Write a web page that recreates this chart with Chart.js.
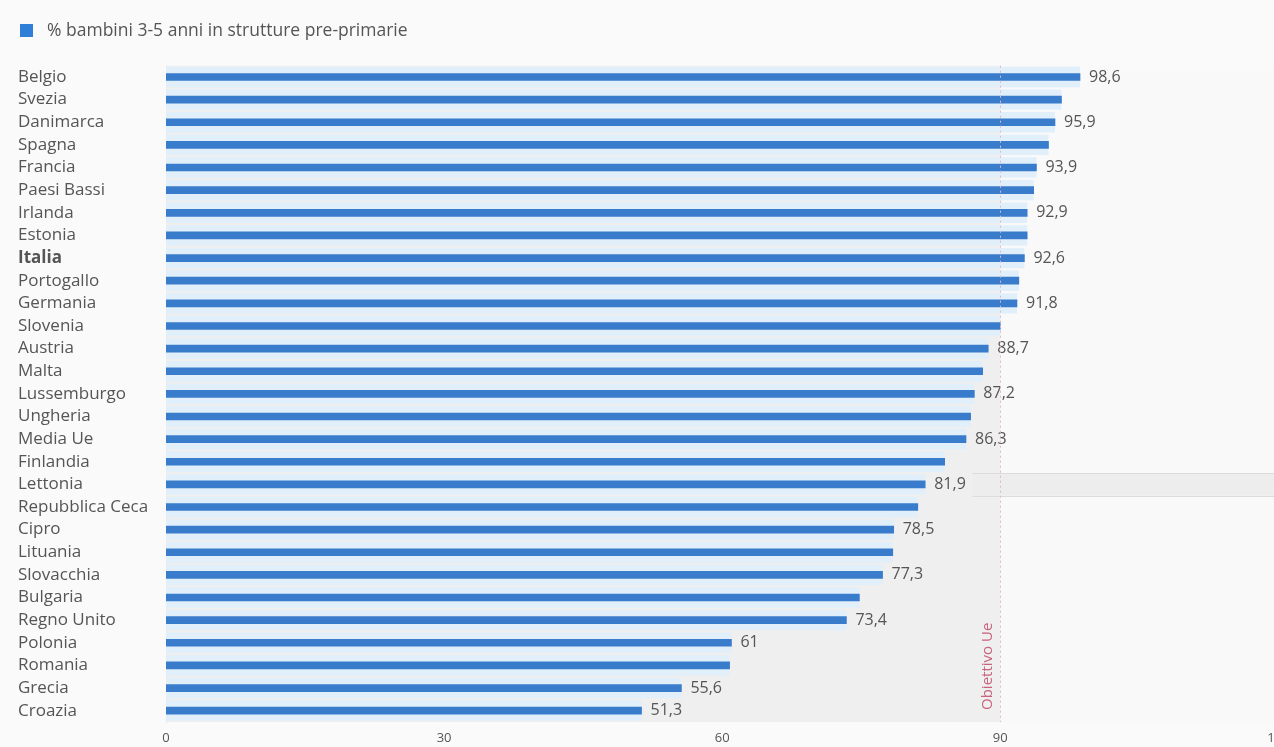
<!DOCTYPE html>
<html><head><meta charset="utf-8">
<script src="https://cdn.jsdelivr.net/npm/chart.js@4"></script>
<style>
html,body{margin:0;padding:0;background:#fafafa;overflow:hidden;width:1274px;height:747px}
#wrap{width:1300px;height:747px}
</style></head>
<body><div id="wrap"><canvas id="c" width="1300" height="747"></canvas></div>
<script>
const categories = ['Belgio','Svezia','Danimarca','Spagna','Francia','Paesi Bassi','Irlanda','Estonia','Italia','Portogallo','Germania','Slovenia','Austria','Malta','Lussemburgo','Ungheria','Media Ue','Finlandia','Lettonia','Repubblica Ceca','Cipro','Lituania','Slovacchia','Bulgaria','Regno Unito','Polonia','Romania','Grecia','Croazia'];
const values = [98.6,96.6,95.9,95.2,93.9,93.6,92.9,92.9,92.6,92.0,91.8,90.0,88.7,88.1,87.2,86.8,86.3,84.0,81.9,81.1,78.5,78.4,77.3,74.8,73.4,61,60.8,55.6,51.3];
const valueLabels = ['98,6','','95,9','','93,9','','92,9','','92,6','','91,8','','88,7','','87,2','','86,3','','81,9','','78,5','','77,3','','73,4','61','','55,6','51,3'];
const seriesName = '% bambini 3-5 anni in strutture pre-primarie';
const xTickValues = [0,30,60,90,120];
const targetValue = 90;
const targetLabel = 'Obiettivo Ue';
const highlightedCategory = 'Lettonia';
const highlightFrom = 87;
const boldCategory = 'Italia';

Chart.defaults.font.family = '"Open Sans", sans-serif';

const bgPlugin = {
  id: 'bg',
  beforeDatasetsDraw(chart) {
    const {ctx, chartArea: a, scales: {x, y}} = chart;
    ctx.save();
    ctx.fillStyle = '#f9f9f9';
    ctx.fillRect(a.left, a.top, a.right - a.left, a.bottom - a.top);
    const x0 = x.getPixelForValue(0), xt = x.getPixelForValue(targetValue);
    ctx.fillStyle = '#efefef';
    ctx.fillRect(x0, a.top, xt - x0, a.bottom - a.top);
    const hi = categories.indexOf(highlightedCategory);
    const yc = y.getPixelForValue(hi);
    const h = (a.bottom - a.top) / categories.length;
    const xh = x.getPixelForValue(highlightFrom);
    ctx.fillStyle = '#ededed';
    ctx.fillRect(xh, yc - h/2, chart.width - xh, h);
    ctx.strokeStyle = '#dcdcdc';
    ctx.lineWidth = 1;
    ctx.beginPath();
    ctx.moveTo(xh, Math.round(yc - h/2) + 0.5); ctx.lineTo(chart.width, Math.round(yc - h/2) + 0.5);
    ctx.moveTo(xh, Math.round(yc + h/2) + 0.5); ctx.lineTo(chart.width, Math.round(yc + h/2) + 0.5);
    ctx.stroke();
    ctx.restore();
  },
  afterDatasetsDraw(chart) {
    const {ctx, chartArea: a, scales: {x, y}} = chart;
    ctx.save();
    ctx.font = '16px "Open Sans", sans-serif';
    ctx.fillStyle = '#555';
    ctx.textAlign = 'left';
    ctx.textBaseline = 'middle';
    const meta = chart.getDatasetMeta(1);
    meta.data.forEach((bar, i) => {
      if (valueLabels[i]) ctx.fillText(valueLabels[i], bar.x + 9, bar.y);
    });
    const xt = Math.round(x.getPixelForValue(targetValue)) + 0.5;
    ctx.strokeStyle = '#e2b6c3';
    ctx.lineWidth = 1;
    ctx.setLineDash([2, 3]);
    ctx.beginPath();
    ctx.moveTo(xt, a.top); ctx.lineTo(xt, a.bottom);
    ctx.stroke();
    ctx.setLineDash([]);
    ctx.translate(xt - 13, a.bottom - 12);
    ctx.rotate(-Math.PI / 2);
    ctx.font = '15px "Open Sans", sans-serif';
    ctx.fillStyle = '#c9627e';
    ctx.textAlign = 'left';
    ctx.textBaseline = 'middle';
    ctx.fillText(targetLabel, 0, 0);
    ctx.restore();
    ctx.save();
    ctx.fillStyle = '#2f7ed8';
    ctx.fillRect(20, 24, 13, 13);
    ctx.font = '17.5px "Open Sans", sans-serif';
    ctx.fillStyle = '#555';
    ctx.textBaseline = 'middle';
    ctx.fillText(seriesName, 47, 31);
    ctx.restore();
  }
};

new Chart(document.getElementById('c'), {
  type: 'bar',
  data: {
    labels: categories,
    datasets: [
      { label: seriesName + ' (fondo)', data: values, backgroundColor: '#e1effa', barPercentage: 0.9, categoryPercentage: 1, grouped: false, order: 2 },
      { label: seriesName, data: values, backgroundColor: '#3a7ccc', barThickness: 7, grouped: false, order: 1 }
    ]
  },
  plugins: [bgPlugin],
  options: {
    indexAxis: 'y',
    responsive: false,
    animation: false,
    layout: { padding: { left: 18, top: 65.7, right: 21.6, bottom: 1 } },
    plugins: { legend: { display: false }, tooltip: { enabled: false } },
    scales: {
      x: {
        type: 'linear', min: 0, max: 120,
        afterBuildTicks(s) { s.ticks = xTickValues.map(v => ({ value: v })); },
        afterFit(s) { s.height = 24; },
        ticks: { color: '#555', font: { size: 13 }, padding: 8 },
        grid: { display: false, drawTicks: false },
        border: { display: false }
      },
      y: {
        type: 'category',
        offset: true,
        afterFit(s) { s.width = 148; },
        ticks: {
          autoSkip: false,
          crossAlign: 'far', color: '#555', padding: 0,
          font: (c) => ({ size: 17, weight: categories[c.index] === boldCategory ? 'bold' : 'normal' })
        },
        grid: { display: false },
        border: { display: true, color: '#ead3da', dash: [2, 2] }
      }
    }
  }
});
</script></body></html>
